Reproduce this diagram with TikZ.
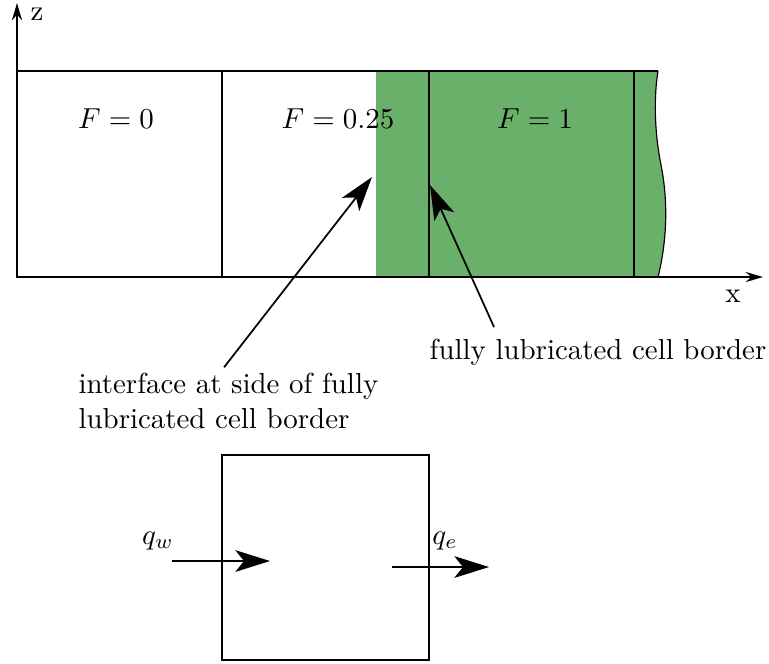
\documentclass[tikz,border=0pt]{standalone}
\usetikzlibrary{arrows.meta, positioning}
\definecolor{lubgreen}{RGB}{106,175,106}

\begin{document}
\begin{tikzpicture}[x=0.346pt, y=-0.346pt, >={Stealth[length=12pt, width=7.5pt, inset=3pt]}]

        % --- Styles ---
        \tikzset{
            cellline/.style={semithick},
            axis/.style={semithick, -{Stealth[length=6pt, width=3.5pt]}},
            pointer/.style={semithick, ->},
            flux/.style={semithick, ->},
            caption/.style={align=left, inner sep=0pt},
            celllabel/.style={inner sep=1pt}
        }
        \useasboundingbox (0,0) rectangle (769,663);

        % --- Film lubrifiant ---
        \fill[lubgreen] (376,71) -- (658,71)
            .. controls (654,95) and (654,130) .. (661,165)
            .. controls (669,205) and (666,245) .. (658,277) -- (376,277) -- cycle;
        \draw[thin] (658,71)
            .. controls (654,95) and (654,130) .. (661,165)
            .. controls (669,205) and (666,245) .. (658,277);

        % --- Cellules ---
        \draw[cellline] (17,71) rectangle (634,277);
        \draw[cellline] (222,71) -- (222,277);
        \draw[cellline] (429,71) -- (429,277);
        \draw[cellline] (634,71) -- (658,71);

        \node[celllabel] (f0) at (116,119) {$F=0$};
        \node[celllabel] (f1) at (338,119) {$F=0.25$};
        \node[celllabel] (f2) at (535,119) {$F=1$};

        % --- Axes ---
        \coordinate (origin) at (17,277);
        \coordinate (ztip) at (17,3);
        \coordinate (xtip) at (763,277);
        \draw[axis] (origin) -- (ztip);
        \draw[axis] (origin) -- (xtip);
        \node (zlab) at (37,14) {z};
        \node (xlab) at (733,296) {x};

        % --- Annotations ---
        \node[caption, anchor=north west] (iface) at (78,373) {interface at side of fully\\lubricated cell border};
        \node (full) at (598,352) {fully lubricated cell border};
        \coordinate (ifacetip) at (372,177);
        \coordinate (fullstart) at (494,327);
        \coordinate (fulltip) at (430,185);
        \draw[pointer] ([xshift=-1.5pt, yshift=2pt]iface.north) -- (ifacetip);
        \draw[pointer] (fullstart) -- (fulltip);

        % --- Bilan sur une cellule ---
        \draw[cellline] (222,455) rectangle (429,660);
        \coordinate (qwstart) at (172,561);
        \coordinate (qwend) at (270,561);
        \coordinate (qestart) at (392,567);
        \coordinate (qeend) at (489,567);
        \draw[flux] (qwstart) -- (qwend);
        \draw[flux] (qestart) -- (qeend);
        \node (qw) at (158,541) {$q_w$};
        \node (qe) at (445,541) {$q_e$};

    \end{tikzpicture}
\end{document}
